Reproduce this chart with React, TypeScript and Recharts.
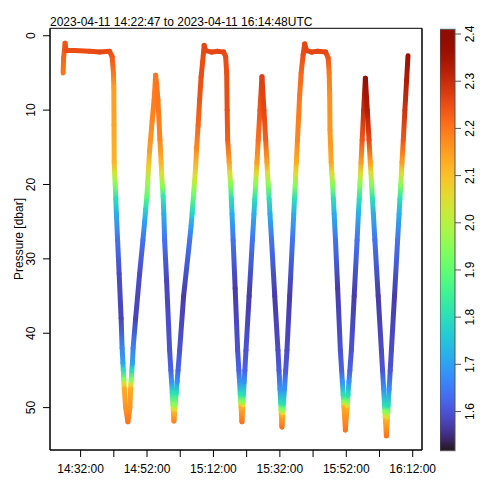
import React from 'react';
import { ScatterChart, Scatter, XAxis, YAxis, ReferenceArea, ComposedChart } from 'recharts';

// time: minutes after 14:00 UTC, pressure: dbar, value: colour variable
type Pt = [number, number, number];

const surface1: Pt[] = [
  [26.73, 5.0, 2.2], [26.88, 3.0, 2.22], [27.33, 1.0, 2.24], [27.63, 2.0, 2.25],
  [30.19, 2.0, 2.25], [34.71, 2.1, 2.25], [37.72, 2.2, 2.26], [40.73, 2.1, 2.25],
  [41.49, 2.8, 2.24], [41.88, 5.0, 2.2],
];
const descent1: Pt[] = [
  [42.0, 7, 2.15], [42.06, 12, 2.14], [42.12, 17, 2.12], [42.24, 18.5, 2.03],
  [42.42, 20, 1.95], [42.6, 22, 1.8], [42.78, 24, 1.72], [43.14, 27.5, 1.64],
  [43.6, 32, 1.59], [44.2, 38, 1.58], [44.5, 42, 1.66], [44.74, 44, 1.7],
  [44.86, 45, 1.8], [45.01, 46.3, 1.95], [45.07, 46.8, 2.05], [45.16, 47.5, 2.13],
  [45.55, 50, 2.16], [46.25, 51.9, 2.2],
];
const ascent1: Pt[] = [
  [46.85, 50, 2.16], [47.06, 47.5, 2.13], [47.15, 46.8, 2.05], [47.24, 46.3, 1.95],
  [47.42, 45, 1.8], [47.6, 44, 1.7], [47.81, 42, 1.66], [48.57, 38, 1.58],
  [49.77, 32, 1.59], [50.76, 27.5, 1.64], [51.28, 25, 1.7], [51.58, 23.4, 1.78],
  [51.97, 21.5, 1.9], [52.18, 19.8, 1.97], [52.48, 17.6, 2.08], [52.78, 15.4, 2.15],
  [53.54, 11.5, 2.18], [54.14, 8.6, 2.19], [54.59, 5.3, 2.2],
];
const descent2: Pt[] = [
  [54.89, 6.5, 2.2], [55.28, 8.6, 2.2], [55.88, 14, 2.18], [56.25, 17, 2.12],
  [56.4, 18.5, 2.05], [56.64, 20.3, 1.95], [56.85, 21.6, 1.82], [57.06, 24, 1.72],
  [57.3, 27.5, 1.64], [57.9, 33, 1.58], [58.81, 42.3, 1.6], [59.17, 45, 1.62],
  [59.38, 46.5, 1.68], [59.59, 48, 1.8], [59.8, 49.6, 1.95], [59.89, 50.2, 2.05],
  [59.97, 50.8, 2.13], [60.1, 51.8, 2.18],
];
const ascent2: Pt[] = [
  [60.28, 50.8, 2.13], [60.39, 50.2, 2.05], [60.49, 49.6, 1.95], [60.8, 48, 1.8],
  [61.07, 46.5, 1.68], [61.34, 45, 1.62], [61.82, 42.3, 1.6], [63.02, 35, 1.57],
  [64.83, 27.5, 1.64], [65.28, 25.5, 1.7], [65.58, 23.9, 1.78], [66.04, 21.2, 1.92],
  [66.34, 19.5, 2.02], [66.64, 17.6, 2.1], [66.94, 15, 2.18], [67.39, 12, 2.22],
  [67.84, 8.6, 2.24], [68.29, 5.5, 2.25], [68.75, 3.5, 2.25], [69.2, 1.3, 2.26],
];
const surface2: Pt[] = [
  [69.65, 2.0, 2.26], [71.46, 2.2, 2.26], [73.27, 2.1, 2.26], [75.07, 2.2, 2.26],
  [75.67, 2.8, 2.25], [75.98, 5, 2.25],
];
const descent3: Pt[] = [
  [76.13, 10, 2.25], [76.28, 14, 2.23], [76.73, 17, 2.15], [76.94, 18.5, 2.05],
  [77.18, 20, 1.95], [77.39, 22, 1.8], [77.6, 24, 1.72], [77.93, 27.5, 1.64],
  [78.54, 34, 1.57], [79.29, 42.3, 1.6], [79.65, 45, 1.62], [79.86, 46.5, 1.68],
  [80.07, 48.2, 1.8], [80.22, 49.2, 1.95], [80.28, 49.6, 2.05], [80.33, 50, 2.13],
  [80.58, 51.9, 2.2],
];
const ascent3: Pt[] = [
  [80.82, 50, 2.13], [80.87, 49.6, 2.05], [80.92, 49.2, 1.95], [81.05, 48.2, 1.8],
  [81.26, 46.5, 1.68], [81.46, 45, 1.62], [81.79, 42.3, 1.6], [82.75, 35, 1.57],
  [83.72, 27.5, 1.64], [84.2, 24, 1.72], [84.44, 22, 1.8], [84.71, 20, 1.95],
  [84.89, 18.5, 2.05], [85.1, 17, 2.15], [85.49, 14, 2.21], [86.0, 10, 2.24],
  [86.61, 5.5, 2.27],
];
const descent4: Pt[] = [
  [87.21, 10, 2.26], [87.72, 14, 2.23], [88.11, 17, 2.15], [88.29, 18.5, 2.05],
  [88.5, 20, 1.95], [88.78, 22, 1.8], [89.02, 24, 1.72], [89.5, 27.5, 1.64],
  [90.46, 35, 1.57], [91.43, 42.3, 1.59], [91.74, 45, 1.61], [92.03, 47.5, 1.68],
  [92.26, 49.4, 1.8], [92.36, 50.3, 1.95], [92.41, 50.7, 2.05], [92.45, 51, 2.13],
  [92.63, 52.6, 2.2],
];
const ascent4: Pt[] = [
  [92.87, 51, 2.13], [92.9, 50.7, 2.05], [92.96, 50.3, 1.95], [93.1, 49.4, 1.8],
  [93.39, 47.5, 1.68], [93.75, 45, 1.61], [94.14, 42.3, 1.59], [94.95, 35, 1.57],
  [95.79, 27.5, 1.64], [96.18, 24, 1.72], [96.4, 22, 1.8], [96.64, 20, 1.95],
  [96.79, 18.5, 2.05], [96.97, 17, 2.13], [97.3, 14, 2.18], [97.96, 8, 2.2],
  [98.41, 5, 2.22], [99.02, 2.5, 2.25], [99.47, 1.1, 2.26],
];
const surface3: Pt[] = [
  [100.07, 2.0, 2.26], [101.58, 2.2, 2.26], [103.39, 2.1, 2.26], [105.8, 2.2, 2.26],
  [106.55, 3, 2.24], [106.85, 5, 2.2],
];
const descent5: Pt[] = [
  [107.0, 8, 2.17], [107.09, 12.7, 2.16], [107.45, 17, 2.14], [107.66, 18.5, 2.05],
  [107.9, 20, 1.95], [108.11, 22, 1.8], [108.35, 24, 1.72], [108.75, 27.5, 1.64],
  [109.41, 34, 1.57], [110.22, 42.3, 1.6], [110.6, 45, 1.62], [110.81, 46.5, 1.68],
  [111.07, 48.3, 1.8], [111.21, 49.3, 1.95], [111.26, 49.7, 2.05], [111.31, 50, 2.13],
  [111.73, 53, 2.2],
];
const ascent5: Pt[] = [
  [112.24, 50, 2.13], [112.28, 49.7, 2.05], [112.36, 49.3, 1.95], [112.51, 48.3, 1.8],
  [112.81, 46.5, 1.68], [113.08, 45, 1.62], [113.53, 42.3, 1.6], [114.38, 35, 1.57],
  [115.25, 27.5, 1.64], [115.64, 24, 1.72], [115.89, 22, 1.8], [116.1, 20, 1.95],
  [116.28, 18.5, 2.05], [116.46, 17, 2.15], [116.79, 14, 2.24], [117.24, 10, 2.3],
  [117.75, 5.7, 2.37],
];
const descent6: Pt[] = [
  [118.33, 10, 2.33], [118.84, 14, 2.26], [119.23, 17, 2.15], [119.44, 18.5, 2.05],
  [119.62, 20, 1.95], [119.89, 22, 1.8], [120.16, 24, 1.72], [120.61, 27.5, 1.64],
  [121.61, 35, 1.57], [122.57, 42.3, 1.59], [122.92, 45, 1.6], [123.25, 47.5, 1.68],
  [123.53, 49.7, 1.8], [123.65, 50.6, 1.95], [123.73, 51.2, 2.05], [123.81, 51.8, 2.13],
  [124.08, 53.8, 2.2],
];
const ascent6: Pt[] = [
  [124.34, 51.8, 2.13], [124.42, 51.2, 2.05], [124.5, 50.6, 1.95], [124.61, 49.7, 1.8],
  [124.9, 47.5, 1.68], [125.23, 45, 1.6], [125.58, 42.3, 1.59], [126.52, 35, 1.57],
  [127.45, 27.5, 1.64], [127.9, 24, 1.72], [128.14, 22, 1.8], [128.42, 20, 1.95],
  [128.6, 18.5, 2.05], [128.78, 17, 2.15], [129.17, 14, 2.24], [129.65, 10, 2.29],
  [130.16, 6, 2.33], [130.58, 2.7, 2.36],
];

const xTicks = [32, 42, 52, 62, 72, 82, 92, 102, 112, 122, 132];
const xTickLabels = ['14:32:00', '', '14:52:00', '', '15:12:00', '', '15:32:00', '', '15:52:00', '', '16:12:00'];
const yTicks = [0, 10, 20, 30, 40, 50];
const cbTicks = [1.6, 1.7, 1.8, 1.9, 2.0, 2.1, 2.2, 2.3, 2.4];
const cbTickLabels = ['1.6', '1.7', '1.8', '1.9', '2.0', '2.1', '2.2', '2.3', '2.4'];

const TITLE = '2023-04-11 14:22:47 to 2023-04-11 16:14:48UTC';
const Y_LABEL = 'Pressure [dbar]';

const X_DOMAIN: [number, number] = [22.783, 134.8];
const P_DOMAIN: [number, number] = [-1, 55.7];
const V_DOMAIN: [number, number] = [1.517, 2.41];

const FONT = '"Liberation Sans", Arial, Helvetica, sans-serif';

const track = [
  ...surface1, ...descent1, ...ascent1, ...descent2, ...ascent2, ...surface2,
  ...descent3, ...ascent3, ...descent4, ...ascent4, ...surface3, ...descent5,
  ...ascent5, ...descent6, ...ascent6,
].map(([t, p, v]) => ({ t, p, v }));

function turbo(x: number): string {
  const t = Math.max(0, Math.min(1, x));
  const r = 0.13572138 + t * (4.6153926 + t * (-42.66032258 + t * (132.13108234 + t * (-152.94239396 + t * 59.28637943))));
  const g = 0.09140261 + t * (2.19418839 + t * (4.84296658 + t * (-14.18503333 + t * (4.27729857 + t * 2.82956604))));
  const b = 0.1066733 + t * (12.64194608 + t * (-60.58204836 + t * (110.36276771 + t * (-89.90310912 + t * 27.34824973))));
  const c = (u: number) => Math.round(255 * Math.max(0, Math.min(1, u)));
  return `rgb(${c(r)},${c(g)},${c(b)})`;
}
const colorOf = (v: number) => turbo((v - V_DOMAIN[0]) / (V_DOMAIN[1] - V_DOMAIN[0]));

function TrackLine(props: any) {
  const pts = props.points || [];
  const segs: React.ReactNode[] = [];
  for (let i = 0; i < pts.length - 1; i++) {
    const a = pts[i];
    const b = pts[i + 1];
    if (a.x == null || b.x == null) continue;
    const id = `seg-grad-${i}`;
    segs.push(
      <g key={i}>
        <defs>
          <linearGradient id={id} gradientUnits="userSpaceOnUse" x1={a.x} y1={a.y} x2={b.x + 0.001} y2={b.y + 0.001}>
            <stop offset="0" stopColor={colorOf(track[i].v)} />
            <stop offset="1" stopColor={colorOf(track[i + 1].v)} />
          </linearGradient>
        </defs>
        <line x1={a.x} y1={a.y} x2={b.x} y2={b.y} stroke={`url(#${id})`} strokeWidth={5} strokeLinecap="round" />
      </g>
    );
  }
  return <g>{segs}</g>;
}

const XTick = (props: any) => {
  const { x, y, payload } = props;
  const i = xTicks.indexOf(payload.value);
  const label = i >= 0 ? xTickLabels[i] : '';
  return (
    <text x={x} y={y + 8.5} textAnchor="middle" fontSize={12} fontFamily={FONT} fill="#000">
      {label}
    </text>
  );
};

const YTick = (props: any) => {
  const { x, y, payload } = props;
  return (
    <text x={x} y={y} transform={`rotate(-90, ${x}, ${y})`} textAnchor="middle" fontSize={12} fontFamily={FONT} fill="#000">
      {payload.value}
    </text>
  );
};

const CbTick = (props: any) => {
  const { x, y, payload } = props;
  const i = cbTicks.indexOf(payload.value);
  const label = i >= 0 ? cbTickLabels[i] : String(payload.value);
  const bx = x + 11;
  return (
    <text x={bx} y={y} transform={`rotate(-90, ${bx}, ${y})`} textAnchor="middle" fontSize={12} fontFamily={FONT} fill="#000">
      {label}
    </text>
  );
};

const ColorBarShape = (props: any) => {
  const { x, y, width, height } = props;
  const stops = [];
  for (let k = 0; k <= 40; k++) {
    const f = k / 40;
    stops.push(<stop key={k} offset={f} stopColor={turbo(f)} />);
  }
  return (
    <g>
      <defs>
        <linearGradient id="turbo-cb" x1="0" y1="1" x2="0" y2="0">
          {stops}
        </linearGradient>
      </defs>
      <rect x={x} y={y} width={width} height={height} fill="url(#turbo-cb)" stroke="#555" strokeWidth={1} />
    </g>
  );
};

const cbData = [{ x: 0 }, { x: 1 }];

export default function App() {
  return (
    <div style={{ position: 'absolute', left: 0, top: 0, width: 480, height: 480, background: '#fff' }}>
      <div style={{ position: 'absolute', left: 0, top: 0 }}>
        <ScatterChart width={480} height={480} margin={{ top: 28.3, right: 48, bottom: 0, left: 0 }}>
          <XAxis
            type="number"
            dataKey="t"
            domain={X_DOMAIN}
            allowDataOverflow
            ticks={xTicks}
            interval={0}
            height={30}
            tickSize={7}
            tickMargin={7.8}
            tick={<XTick />}
            stroke="#000"
            tickLine={{ stroke: '#000' }}
            axisLine={{ stroke: '#000' }}
          />
          <YAxis
            type="number"
            dataKey="p"
            domain={P_DOMAIN}
            allowDataOverflow
            reversed
            ticks={yTicks}
            interval={0}
            width={50}
            tickSize={7}
            tickMargin={7.5}
            tick={<YTick />}
            stroke="#000"
            tickLine={{ stroke: '#000' }}
            axisLine={{ stroke: '#000' }}
          />
          <YAxis
            yAxisId="r"
            orientation="right"
            type="number"
            domain={P_DOMAIN}
            allowDataOverflow
            reversed
            ticks={yTicks}
            interval={0}
            width={10}
            tickSize={7}
            tick={false}
            stroke="#000"
            tickLine={{ stroke: '#000' }}
            axisLine={{ stroke: '#000' }}
          />
          <ReferenceArea
            x1={X_DOMAIN[0]}
            x2={X_DOMAIN[1]}
            y1={P_DOMAIN[0]}
            y2={P_DOMAIN[1]}
            fill="none"
            fillOpacity={0}
            stroke="#000"
            strokeWidth={1}
            ifOverflow="visible"
          />
          <Scatter
            data={track}
            dataKey="p"
            isAnimationActive={false}
            line={TrackLine}
            lineType="joint"
            shape={() => <g />}
          />
        </ScatterChart>
      </div>
      <div style={{ position: 'absolute', left: 440, top: 0 }}>
        <ComposedChart width={40} height={480} data={cbData} margin={{ top: 29.3, right: 0, bottom: 29.3, left: 0 }}>
          <XAxis type="number" dataKey="x" domain={[0, 1]} hide />
          <YAxis
            orientation="right"
            type="number"
            domain={V_DOMAIN}
            allowDataOverflow
            ticks={cbTicks}
            interval={0}
            width={25}
            tickSize={6}
            tickMargin={2}
            tick={<CbTick />}
            axisLine={false}
            tickLine={{ stroke: '#555' }}
          />
          <ReferenceArea
            x1={0}
            x2={1}
            y1={V_DOMAIN[0]}
            y2={V_DOMAIN[1]}
            shape={<ColorBarShape />}
            ifOverflow="visible"
          />
        </ComposedChart>
      </div>
      <svg width={480} height={480} style={{ position: 'absolute', left: 0, top: 0, pointerEvents: 'none' }}>
        <text x={50} y={26} fontSize={12} fontFamily={FONT} fill="#000">
          {TITLE}
        </text>
        <text x={22.5} y={239} transform="rotate(-90, 22.5, 239)" textAnchor="middle" fontSize={12} fontFamily={FONT} fill="#000">
          {Y_LABEL}
        </text>
      </svg>
    </div>
  );
}
